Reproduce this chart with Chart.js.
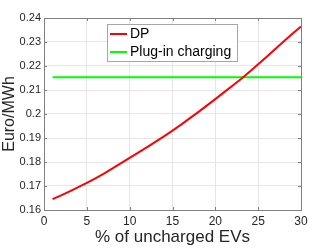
<!DOCTYPE html>
<html>
<head>
<meta charset="utf-8">
<script src="https://cdn.jsdelivr.net/npm/chart.js@4/dist/chart.umd.min.js"></script>
<style>
  html, body { margin: 0; padding: 0; background: #fff; }
  #wrap { width: 332px; height: 249px; }
</style>
</head>
<body>
<div id="wrap"><canvas id="chart"></canvas></div>
<script>
// values
const uncharged = [1, 2, 3, 4, 5, 6, 7, 8, 9, 10, 11, 12, 13, 14, 15,
                   16, 17, 18, 19, 20, 21, 22, 23, 24, 25, 26, 27, 28, 29, 30]
const dpCost = [0.1645, 0.1661, 0.1678, 0.1695, 0.1713, 0.1732, 0.1752, 0.1773, 0.1795, 0.1817,
                0.1839, 0.1861, 0.1884, 0.1907, 0.1931, 0.1956, 0.1982, 0.2008, 0.2035, 0.2062,
                0.2090, 0.2118, 0.2146, 0.2176, 0.2207, 0.2239, 0.2271, 0.2303, 0.2334, 0.2365]
const plugInX = [1, 30]
const plugInCost = [0.2153, 0.2153]
const seriesNames = ['DP', 'Plug-in charging']
const xTicks = [0, 5, 10, 15, 20, 25, 30]
const yTicks = [0.16, 0.17, 0.18, 0.19, 0.2, 0.21, 0.22, 0.23, 0.24]

const red = '#ff0000'
const green = '#00ff00'
const textColor = '#262626'

const ctx = document.getElementById('chart').getContext('2d')

// box around the plot, inward tick marks and the legend inside the axes
const matlabAxes = {
  id: 'matlabAxes',
  afterDraw(chart) {
    const { ctx, chartArea: a, scales } = chart
    ctx.save()
    ctx.strokeStyle = '#808080'
    ctx.lineWidth = 1
    ctx.beginPath()
    xTicks.forEach((v) => {
      const px = Math.round(scales.x.getPixelForValue(v)) + 0.5
      ctx.moveTo(px, a.bottom); ctx.lineTo(px, a.bottom - 3)
      ctx.moveTo(px, a.top); ctx.lineTo(px, a.top + 3)
    })
    yTicks.forEach((v) => {
      const py = Math.round(scales.y.getPixelForValue(v)) + 0.5
      ctx.moveTo(a.left, py); ctx.lineTo(a.left + 3, py)
      ctx.moveTo(a.right, py); ctx.lineTo(a.right - 3, py)
    })
    ctx.stroke()
    ctx.strokeRect(Math.round(a.left) + 0.5, Math.round(a.top) + 0.5,
                   Math.round(a.right - a.left), Math.round(a.bottom - a.top))

    // legend
    const lx = a.left + 63, ly = a.top + 6, lw = 130, lh = 37
    ctx.fillStyle = '#ffffff'
    ctx.fillRect(lx, ly, lw, lh)
    ctx.strokeStyle = '#a6a6a6'
    ctx.strokeRect(lx + 0.5, ly + 0.5, lw, lh)
    const colors = [red, green]
    ctx.font = '14px "Liberation Sans", Arial, sans-serif'
    ctx.textBaseline = 'middle'
    seriesNames.forEach((name, i) => {
      const cy = ly + 10 + i * 18
      ctx.strokeStyle = colors[i]
      ctx.lineWidth = 2
      ctx.beginPath()
      ctx.moveTo(lx + 3, cy); ctx.lineTo(lx + 20, cy)
      ctx.stroke()
      ctx.fillStyle = '#000000'
      ctx.fillText(name, lx + 23, cy + 0.5)
    })
    ctx.restore()
  }
}

new Chart(ctx, {
  type: 'line',
  data: {
    datasets: [
      {
        label: seriesNames[0],
        data: uncharged.map((x, i) => ({ x: x, y: dpCost[i] })),
        borderColor: red,
        borderWidth: 2,
        pointRadius: 0,
        tension: 0
      },
      {
        label: seriesNames[1],
        data: plugInX.map((x, i) => ({ x: x, y: plugInCost[i] })),
        borderColor: green,
        borderWidth: 2,
        pointRadius: 0
      }
    ]
  },
  options: {
    responsive: true,
    maintainAspectRatio: false,
    animation: false,
    layout: { padding: { top: 18, right: 31, left: 0, bottom: 0 } },
    plugins: {
      legend: { display: false },
      tooltip: { enabled: false }
    },
    scales: {
      x: {
        type: 'linear',
        min: 0,
        max: 30,
        afterBuildTicks: (scale) => { scale.ticks = xTicks.map((v) => ({ value: v })) },
        afterFit: (scale) => { scale.height = 39 },
        grid: { color: '#e6e6e6', drawTicks: false },
        border: { display: false },
        ticks: {
          color: textColor,
          padding: 4,
          maxRotation: 0,
          font: { family: '"Liberation Sans", Arial, sans-serif', size: 12 }
        },
        title: {
          display: true,
          text: '% of uncharged EVs',
          color: textColor,
          padding: { top: 0, bottom: 1 },
          font: { family: '"Liberation Sans", Arial, sans-serif', size: 17 }
        }
      },
      y: {
        min: 0.16,
        max: 0.24,
        afterBuildTicks: (scale) => { scale.ticks = yTicks.map((v) => ({ value: v })) },
        afterFit: (scale) => { scale.width = 44 },
        grid: { color: '#e6e6e6', drawTicks: false },
        border: { display: false },
        ticks: {
          color: textColor,
          padding: 3,
          callback: (v) => String(parseFloat(v.toFixed(2))),
          font: { family: '"Liberation Sans", Arial, sans-serif', size: 11 }
        },
        title: {
          display: true,
          text: 'Euro/MWh',
          color: textColor,
          padding: { top: 0, bottom: 0 },
          font: { family: '"Liberation Sans Narrow", "Liberation Sans", Arial, sans-serif', size: 16 }
        }
      }
    }
  },
  plugins: [matlabAxes]
})
</script>
</body>
</html>
